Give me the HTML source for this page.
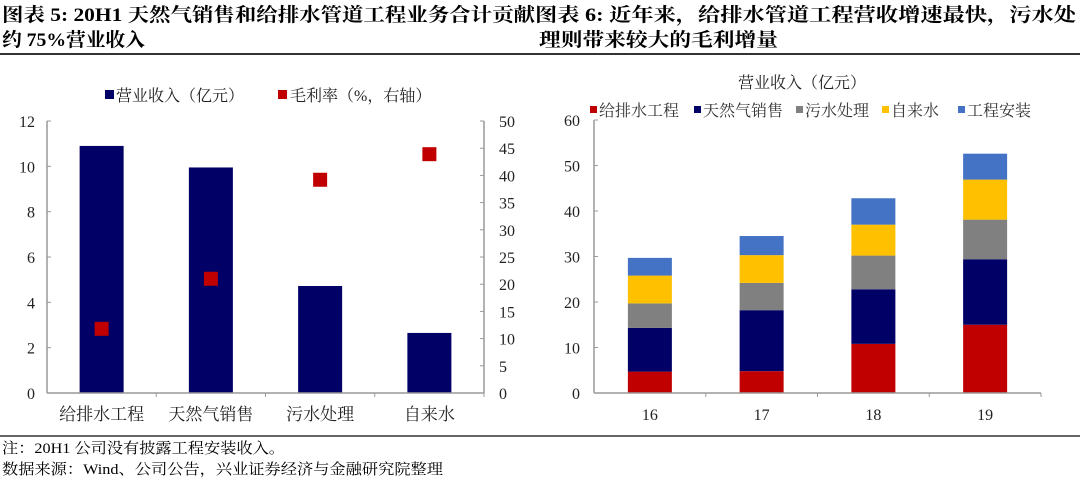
<!DOCTYPE html>
<html><head><meta charset="utf-8"><style>
body{margin:0;background:#fff;width:1080px;height:479px;overflow:hidden;font-family:"Liberation Serif","Noto Serif CJK SC",serif;}
svg text{font-family:"Liberation Serif","Noto Serif CJK SC",serif;}
</style></head><body>
<svg width="1080" height="479">
<text x="2" y="21" font-size="19" font-weight="bold" textLength="533" lengthAdjust="spacingAndGlyphs">图表 5: 20H1 天然气销售和给排水管道工程业务合计贡献</text>
<text x="2" y="46" font-size="19" font-weight="bold" textLength="143" lengthAdjust="spacingAndGlyphs">约 75%营业收入</text>
<text x="535" y="21" font-size="19" font-weight="bold" textLength="541" lengthAdjust="spacingAndGlyphs">图表 6: 近年来，给排水管道工程营收增速最快，污水处</text>
<text x="539" y="46" font-size="19" font-weight="bold" textLength="239" lengthAdjust="spacingAndGlyphs">理则带来较大的毛利增量</text>
<line x1="0" y1="54" x2="1080" y2="54" stroke="#333" stroke-width="2"/>
<line x1="0" y1="436" x2="1080" y2="436" stroke="#333" stroke-width="1.5"/>
<text x="2" y="453" font-size="15" textLength="283" lengthAdjust="spacingAndGlyphs">注：20H1 公司没有披露工程安装收入。</text>
<text x="2" y="474" font-size="15" textLength="441" lengthAdjust="spacingAndGlyphs">数据来源：Wind、公司公告，兴业证券经济与金融研究院整理</text>
<g id="left"></g>
<g id="right"></g>
</svg>
<script>
const leftCats=["给排水工程","天然气销售","污水处理","自来水"];
const leftRevenue=[10.9,9.95,4.72,2.65];
const leftMargin=[11.8,21,39.2,43.9];
const leftTicks=[0,2,4,6,8,10,12];
const rightTicks=[0,5,10,15,20,25,30,35,40,45,50];
const years=["16","17","18","19"];
const seriesNames=["给排水工程","天然气销售","污水处理","自来水","工程安装"];
const sDrain=[4.7,4.8,10.8,15.0];
const sGas=[9.6,13.4,12.0,14.4];
const sSewage=[5.4,6.0,7.4,8.7];
const sWater=[6.1,6.1,6.8,8.8];
const sInstall=[3.9,4.2,5.8,5.7];
const stackTicks=[0,10,20,30,40,50,60];
const NS="http://www.w3.org/2000/svg";
function mk(p,t,a,txt){const e=document.createElementNS(NS,t);for(const k in a)e.setAttribute(k,a[k]);if(txt!==undefined)e.textContent=txt;p.appendChild(e);return e;}
const L=document.getElementById('left');
const lx0=47,lx1=484,ly0=393,ly1=121;
const ly=v=>ly0-(v/12)*(ly0-ly1);
const ry=v=>ly0-(v/50)*(ly0-ly1);
const lcw=(lx1-lx0)/leftCats.length;
const lcx=i=>lx0+lcw*(i+0.5);
let e;
leftTicks.forEach(t=>{e=mk(L,'text',{x:lx0-12,y:ly(t)+6,'font-size':16,'text-anchor':'end',fill:'#222'},t);

mk(L,'line',{x1:lx0,x2:lx0+4,y1:ly(t),y2:ly(t),stroke:'#999'});});
rightTicks.forEach(t=>{e=mk(L,'text',{x:lx1+15,y:ry(t)+6,'font-size':16,fill:'#222'},t);

mk(L,'line',{x1:lx1-4,x2:lx1,y1:ry(t),y2:ry(t),stroke:'#999'});});
leftCats.forEach((c,i)=>{
e=mk(L,'rect',{x:lcx(i)-22,y:ly(leftRevenue[i]),width:44,height:ly0-ly(leftRevenue[i]),fill:'#000066'});

e=mk(L,'rect',{x:lcx(i)-7,y:ry(leftMargin[i])-7,width:14,height:14,fill:'#c00000'});

e=mk(L,'text',{x:lcx(i),y:420,'font-size':17,'text-anchor':'middle',fill:'#222'},c);

mk(L,'line',{x1:lx0+lcw*(i+1),x2:lx0+lcw*(i+1),y1:ly0,y2:ly0+4,stroke:'#999'});
});
mk(L,'line',{x1:lx0,x2:lx0,y1:ly1,y2:ly0,stroke:'#999','stroke-width':1.5});
mk(L,'line',{x1:lx1,x2:lx1,y1:ly1,y2:ly0,stroke:'#999','stroke-width':1.5});
mk(L,'line',{x1:lx0,x2:lx1,y1:ly0,y2:ly0,stroke:'#999','stroke-width':1.5});
mk(L,'rect',{x:105,y:90,width:9,height:9,fill:'#000066'});
e=mk(L,'text',{x:116,y:101,'font-size':16,fill:'#222'},'营业收入（亿元）');

mk(L,'rect',{x:278,y:90,width:9,height:9,fill:'#c00000'});
e=mk(L,'text',{x:290,y:101,'font-size':16,fill:'#222'},'毛利率（%，右轴）');

const R=document.getElementById('right');
const rx0=594,rx1=1041,by0=393,by1=120;
const by=v=>by0-(v/60)*(by0-by1);
const rcw=(rx1-rx0)/years.length;
const rcx=i=>rx0+rcw*(i+0.5);
const series=[sDrain,sGas,sSewage,sWater,sInstall];
const cols=['#c00000','#000066','#808080','#ffc000','#4472c4'];
stackTicks.forEach(t=>{e=mk(R,'text',{x:rx0-14,y:by(t)+6,'font-size':16,'text-anchor':'end',fill:'#222'},t);

mk(R,'line',{x1:rx0,x2:rx0+4,y1:by(t),y2:by(t),stroke:'#999'});});
years.forEach((yr,i)=>{
let cum=0;
series.forEach((s,k)=>{
e=mk(R,'rect',{x:rcx(i)-22,y:by(cum+s[i]),width:44,height:by(cum)-by(cum+s[i]),fill:cols[k]});

cum+=s[i];});
e=mk(R,'text',{x:rcx(i),y:420,'font-size':16,'text-anchor':'middle',fill:'#222'},yr);

mk(R,'line',{x1:rx0+rcw*(i+1),x2:rx0+rcw*(i+1),y1:by0,y2:by0+4,stroke:'#999'});
});
mk(R,'line',{x1:rx0,x2:rx0,y1:by1,y2:by0,stroke:'#999','stroke-width':1.5});
mk(R,'line',{x1:rx0,x2:rx1,y1:by0,y2:by0,stroke:'#999','stroke-width':1.5});
e=mk(R,'text',{x:802,y:88,'font-size':16,'text-anchor':'middle',fill:'#222'},'营业收入（亿元）');

const lgx=[590,694,796,882,958];
seriesNames.forEach((n,k)=>{
mk(R,'rect',{x:lgx[k],y:106,width:7,height:7,fill:cols[k]});
e=mk(R,'text',{x:lgx[k]+9,y:116,'font-size':16,fill:'#333'},n);

});
</script>
</body></html>
